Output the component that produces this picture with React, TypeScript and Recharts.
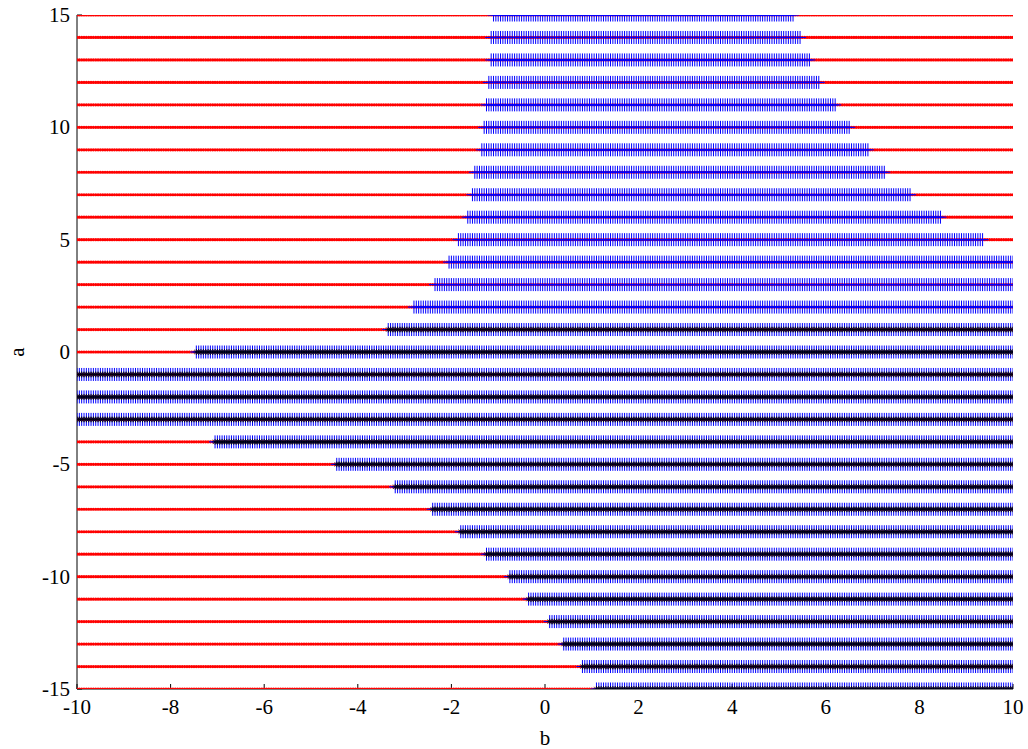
import { ScatterChart, Scatter, XAxis, YAxis } from 'recharts'

// rows of a, top to bottom
const aRows = [15, 14, 13, 12, 11, 10, 9, 8, 7, 6, 5, 4, 3, 2, 1, 0, -1, -2, -3, -4, -5, -6, -7, -8, -9, -10, -11, -12, -13, -14, -15]
// where the "+" region starts / ends on each row (b)
const stableFrom = [-1.14, -1.15, -1.18, -1.24, -1.26, -1.34, -1.39, -1.5, -1.56, -1.65, -1.88, -2.09, -2.37, -2.84, -3.35, -7.46, -10, -10, -10, -7.09, -4.45, -3.2, -2.4, -1.82, -1.27, -0.79, -0.39, 0.1, 0.4, 0.8, 1.1]
const stableTo = [5.3, 5.47, 5.66, 5.88, 6.2, 6.52, 6.9, 7.26, 7.8, 8.48, 9.37, 10, 10, 10, 10, 10, 10, 10, 10, 10, 10, 10, 10, 10, 10, 10, 10, 10, 10, 10, 10]
// rows that also get the black star
const starRows = [1, 0, -1, -2, -3, -4, -5, -6, -7, -8, -9, -10, -11, -12, -13, -14, -15]

const bTicks = [-10, -8, -6, -4, -2, 0, 2, 4, 6, 8, 10]
const aTicks = [-15, -10, -5, 0, 5, 10, 15]
const bStep = 0.05
const bCount = 401

const bGrid = Array.from({ length: bCount }, (_, i) => Math.round((-10 + i * bStep) * 100) / 100)

const allPts = aRows.flatMap((a) => bGrid.map((b) => ({ b, a })))
const plusPts = aRows.flatMap((a, i) =>
  bGrid.filter((b) => b >= stableFrom[i] - 1e-9 && b <= stableTo[i] + 1e-9).map((b) => ({ b, a }))
)
const starPts = plusPts.filter((p) => starRows.includes(p.a))

const font = '"Liberation Serif", "Times New Roman", Times, serif'
const txt = { fill: '#000', fontSize: 21, fontFamily: font }

const RedDot = (p: any) => <circle cx={p.cx} cy={p.cy} r={1.6} fill="#ff0000" />
const BluePlus = (p: any) => (
  <path d={`M${p.cx - 6},${p.cy}H${p.cx + 6}M${p.cx},${p.cy - 6.5}V${p.cy + 6.5}`} stroke="#0000ff" strokeWidth={1} fill="none" />
)
const BlackStar = (p: any) => (
  <path
    d={`M${p.cx - 3},${p.cy}H${p.cx + 3}M${p.cx},${p.cy - 3}V${p.cy + 3}M${p.cx - 2.2},${p.cy - 2.2}L${p.cx + 2.2},${p.cy + 2.2}M${p.cx - 2.2},${p.cy + 2.2}L${p.cx + 2.2},${p.cy - 2.2}`}
    stroke="#000000"
    strokeWidth={0.7}
    fill="none"
  />
)

const BottomTick = (p: any) => (
  <text x={p.x} y={p.y} dy="0.71em" textAnchor="middle" fontFamily="Liberation Serif" fontSize={21} fill="#000">
    {p.payload?.value}
  </text>
)
const LeftTick = (p: any) => (
  <text x={p.x} y={p.y} dy="0.34em" textAnchor="end" fontFamily="Liberation Serif" fontSize={21} fill="#000">
    {p.payload?.value}
  </text>
)

export default function App() {
  return (
    <div style={{ position: 'absolute', left: 0, top: 0, background: '#fff', fontFamily: font }}>
      <ScatterChart width={1028} height={749} margin={{ top: 15, right: 15, bottom: 0, left: 17 }} style={{ fontFamily: font }}>
        <XAxis
          dataKey="b"
          type="number"
          domain={[-10, 10]}
          ticks={bTicks}
          allowDataOverflow
          height={60}
          stroke="#000"
          tickSize={-5}
          tickMargin={15}
          tick={<BottomTick />}
          label={{ value: 'b', position: 'insideBottom', offset: 4, style: txt }}
        />
        <XAxis
          xAxisId="top"
          orientation="top"
          dataKey="b"
          type="number"
          domain={[-10, 10]}
          ticks={bTicks}
          allowDataOverflow
          height={0}
          stroke="#000"
          tickSize={-5}
          tick={false}
        />
        <YAxis
          dataKey="a"
          type="number"
          domain={[-15, 15]}
          ticks={aTicks}
          allowDataOverflow
          width={60}
          stroke="#000"
          tickSize={-5}
          tickMargin={12}
          tick={<LeftTick />}
          label={{ value: 'a', angle: -90, position: 'insideLeft', offset: 0, style: { ...txt, textAnchor: 'middle' } }}
        />
        <YAxis
          yAxisId="right"
          orientation="right"
          dataKey="a"
          type="number"
          domain={[-15, 15]}
          ticks={aTicks}
          allowDataOverflow
          width={0}
          stroke="#000"
          tickSize={-5}
          tick={false}
        />
        <Scatter data={allPts} shape={RedDot} isAnimationActive={false} />
        <Scatter data={plusPts} shape={BluePlus} isAnimationActive={false} />
        <Scatter data={starPts} shape={BlackStar} isAnimationActive={false} />
      </ScatterChart>
    </div>
  )
}
